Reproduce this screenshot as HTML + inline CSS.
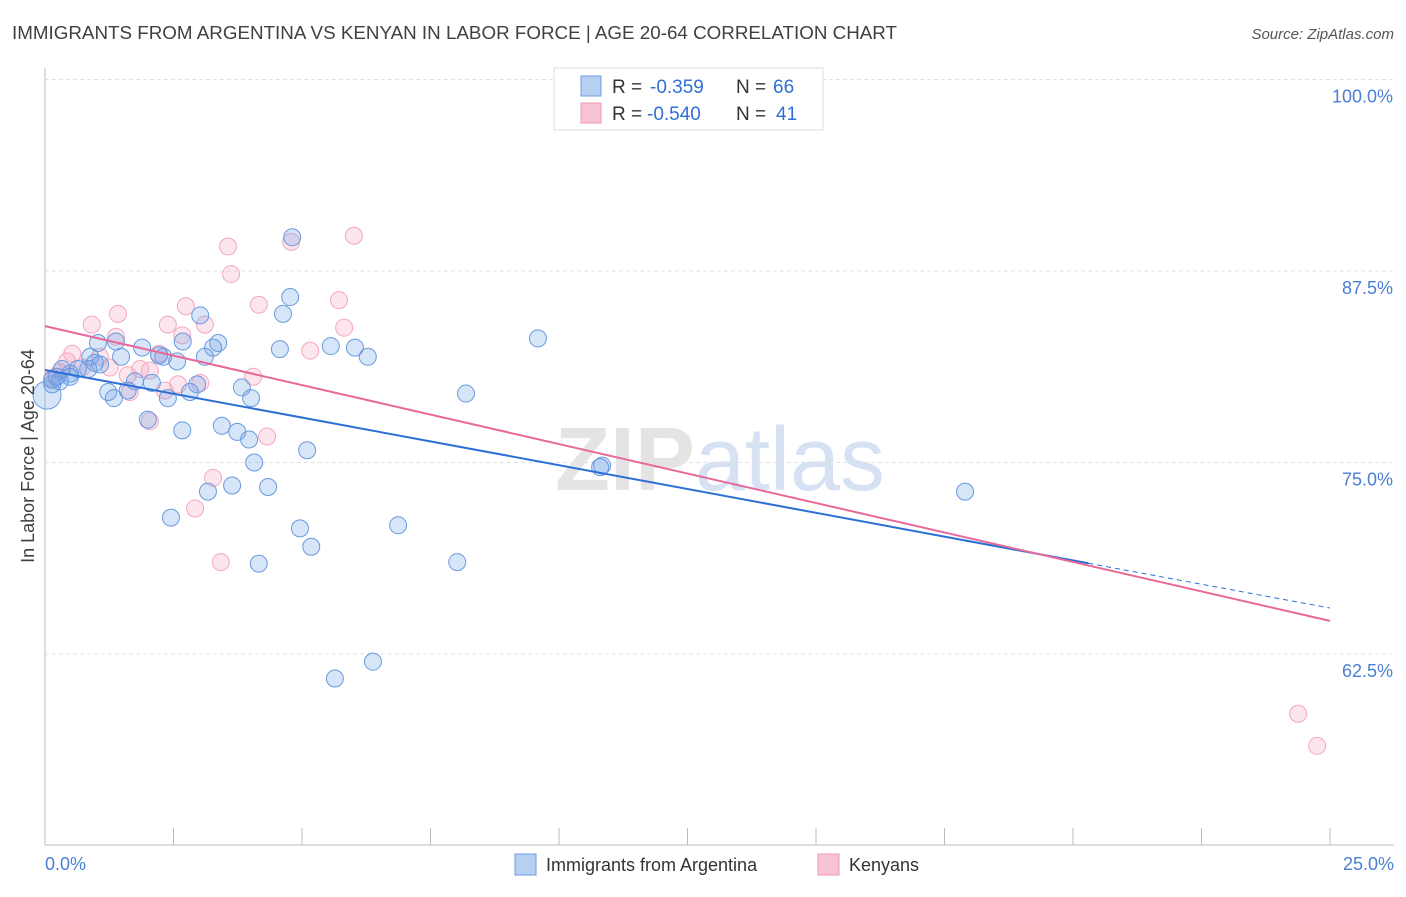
<!DOCTYPE html>
<html><head><meta charset="utf-8"><style>
body{margin:0;background:#fff;font-family:"Liberation Sans",sans-serif}
svg text{font-family:"Liberation Sans",sans-serif}
</style></head><body>
<svg id="c" width="1406" height="892">
<text x="12" y="39" font-size="18" fill="#404040" textLength="885" lengthAdjust="spacingAndGlyphs">IMMIGRANTS FROM ARGENTINA VS KENYAN IN LABOR FORCE | AGE 20-64 CORRELATION CHART</text>
<text x="1394" y="39" font-size="15" fill="#555" font-style="italic" text-anchor="end">Source: ZipAtlas.com</text>
<text x="720" y="490" font-size="90" fill="#e4e4e4" text-anchor="middle" font-weight="bold">ZIP<tspan fill="#d6e2f4" font-weight="normal">atlas</tspan></text>
<g id="grid"></g><g id="pts"></g><g id="lines"></g>
<text transform="translate(34,456) rotate(-90)" font-size="18" fill="#404040" text-anchor="middle">In Labor Force | Age 20-64</text>
<text x="45" y="870" font-size="18" fill="#4a7fd4">0.0%</text>
<text x="1394" y="870" font-size="18" fill="#4a7fd4" text-anchor="end">25.0%</text>
<g>
<rect x="554" y="68" width="269" height="62" fill="#fff" stroke="#ddd"/>
<rect x="581" y="76" width="20" height="20" fill="#b7d0f2" stroke="#6b9be0"/>
<rect x="581" y="103" width="20" height="20" fill="#f8c4d4" stroke="#ef9ab5"/>
<text x="612" y="93" font-size="19" fill="#333">R =</text>
<text x="650" y="93" font-size="19" fill="#2f6fd6">-0.359</text>
<text x="736" y="93" font-size="19" fill="#333">N =</text>
<text x="773" y="93" font-size="19" fill="#2f6fd6">66</text>
<text x="612" y="120" font-size="19" fill="#333">R =</text>
<text x="647" y="120" font-size="19" fill="#2f6fd6">-0.540</text>
<text x="736" y="120" font-size="19" fill="#333">N =</text>
<text x="776" y="120" font-size="19" fill="#2f6fd6">41</text>
</g>
<g>
<rect x="515" y="854" width="21" height="21" fill="#b7d0f2" stroke="#6b9be0"/>
<text x="546" y="871" font-size="18" fill="#333">Immigrants from Argentina</text>
<rect x="818" y="854" width="21" height="21" fill="#f8c4d4" stroke="#ef9ab5"/>
<text x="849" y="871" font-size="18" fill="#333">Kenyans</text>
</g>
</svg>
<script>
const yTicks=[100,87.5,75,62.5];
const xTickVals=[0,2.5,5,7.5,10,12.5,15,17.5,20,22.5,25];
const blueX=[4.81,4.77,4.63,9.59,4.57,5.56,6.03,6.28,3.37,3.27,3.11,3.02,2.68,2.57,2.30,2.22,1.89,1.48,1.38,1.03,0.97,0.88,0.84,0.64,0.49,0.33,0.23,0.14,0.04,0.14,1.23,1.34,1.61,1.75,2.08,2.39,2.82,2.96,3.83,4.01,3.44,3.74,3.97,2.67,2.00,4.07,5.10,8.19,10.84,10.80,17.90,3.64,4.34,3.17,2.45,4.96,6.87,5.18,4.16,8.02,6.38,5.64,0.29,0.49,1.07];
const blueY=[89.7,85.8,84.7,83.1,82.4,82.6,82.5,81.9,82.8,82.5,81.9,84.6,82.9,81.6,81.9,82.0,82.5,81.9,82.9,82.8,81.5,81.9,81.1,81.1,80.8,81.1,80.6,80.1,79.4,80.4,79.6,79.2,79.7,80.3,80.2,79.2,79.6,80.1,79.9,79.2,77.4,77.0,76.5,77.1,77.8,75.0,75.8,79.5,74.8,74.7,73.1,73.5,73.4,73.1,71.4,70.7,70.9,69.5,68.4,68.5,62.0,60.9,80.3,80.6,81.4];
const pinkX=[10.33,3.56,4.79,6.01,3.62,2.74,4.16,5.72,1.42,0.91,2.39,3.11,2.67,1.38,5.82,5.16,2.22,1.07,0.53,0.43,0.21,0.72,1.61,2.04,1.85,2.33,2.59,3.02,4.05,1.65,2.04,4.32,3.27,2.92,3.42,24.38,24.75,0.14,0.29,1.26];
const pinkY=[100.0,89.1,89.4,89.8,87.3,85.2,85.3,85.6,84.7,84.0,84.0,84.0,83.3,83.2,83.8,82.3,82.1,81.9,82.1,81.6,80.6,81.2,80.7,81.0,81.1,79.7,80.1,80.2,80.6,79.6,77.7,76.7,74.0,72.0,68.5,58.6,56.5,80.5,80.9,81.2];
const blueLine=[81.04,65.5], pinkLine=[83.9,64.66];
const NS='http://www.w3.org/2000/svg';
const X=v=>45+v*51.4, Y=v=>79.5+(100-v)*15.32;
function mk(t,a,p){const e=document.createElementNS(NS,t);for(const k in a)e.setAttribute(k,a[k]);p.appendChild(e);return e;}
const g=document.getElementById('grid');
let ax=mk('line',{x1:45,y1:68,x2:45,y2:845,stroke:'#bbb'},g);


let bx=mk('line',{x1:45,y1:845,x2:1394,y2:845,stroke:'#bbb'},g);


xTickVals.forEach(v=>{const l=mk('line',{x1:X(v),y1:828,x2:X(v),y2:845,stroke:'#bbb'},g);

});
yTicks.forEach(v=>{const l=mk('line',{x1:45,y1:Y(v),x2:1394,y2:Y(v),stroke:'#e2e2e2','stroke-dasharray':'4,3'},g);


const t=mk('text',{x:1393,y:Y(v)+23,'font-size':18,fill:'#4a7fd4','text-anchor':'end'},g);t.textContent=v.toFixed(1)+'%';

});
const P=document.getElementById('pts');
function dots(xs,ys,fill,stroke,name){xs.forEach((x,i)=>{const r=(x<0.1&&name==='blue-point')?14:8.5;const c=mk('circle',{cx:X(x),cy:Y(ys[i]),r:r,fill:fill,stroke:stroke,'stroke-width':1},P);

});}
dots(pinkX,pinkY,'rgba(244,160,190,0.28)','#f2a9c1','kenyan-point');
dots(blueX,blueY,'rgba(110,160,230,0.28)','#6a9ade','blue-point');
const L=document.getElementById('lines');
const xm=20.3;const bm=blueLine[0]+(blueLine[1]-blueLine[0])*xm/25;
let l1=mk('line',{x1:X(0),y1:Y(blueLine[0]),x2:X(xm),y2:Y(bm),stroke:'#2b6fd6','stroke-width':2},L);


let l2=mk('line',{x1:X(xm),y1:Y(bm),x2:X(25),y2:Y(blueLine[1]),stroke:'#2b6fd6','stroke-width':1,'stroke-dasharray':'5,4'},L);


let l3=mk('line',{x1:X(0),y1:Y(pinkLine[0]),x2:X(25),y2:Y(pinkLine[1]),stroke:'#e8689a','stroke-width':2},L);


</script>
</body></html>
